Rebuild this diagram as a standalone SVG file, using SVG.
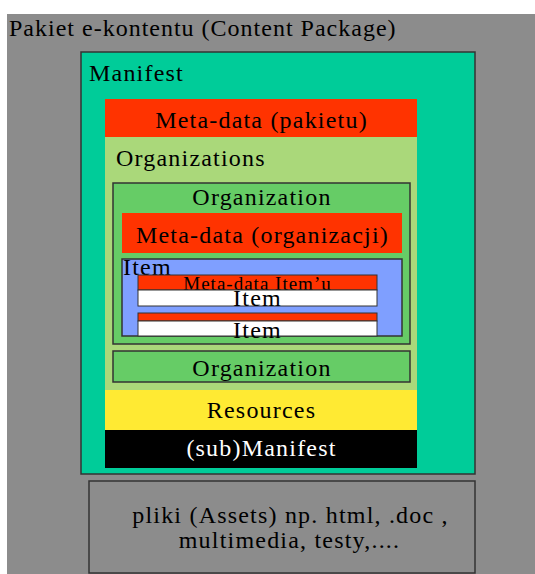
<svg xmlns="http://www.w3.org/2000/svg" width="535" height="574" viewBox="0 0 535 574">
<style>
text{font-family:"Liberation Serif","Times New Roman",serif;fill:#000;font-size:24px;letter-spacing:1.2px}
.c{text-anchor:middle}
.b{stroke:#333;stroke-width:1.5}
.t{stroke:#333;stroke-width:1}
</style>
<rect x="0" y="0" width="535" height="574" fill="#fff"/>
<g id="package">
<rect x="7" y="14" width="528" height="560" fill="#8c8c8c"/>
<text x="9" y="36" style="letter-spacing:1px">Pakiet e-kontentu (Content Package)</text>
</g>
<g id="manifest">
<rect x="81" y="52" width="394" height="422" fill="#00cc99" class="b"/>
<text x="89" y="81">Manifest</text>
</g>
<g id="metadata-pakietu">
<rect x="105" y="99" width="312" height="38" fill="#ff3300"/>
<text class="c" x="261.5" y="128">Meta-data (pakietu)</text>
</g>
<g id="organizations">
<rect x="105" y="137" width="312" height="253" fill="#aad87a"/>
<text x="116" y="166">Organizations</text>
</g>
<g id="organization1">
<rect x="113" y="183" width="297" height="161" fill="#66cc66" class="b"/>
<text class="c" x="262" y="205">Organization</text>
</g>
<g id="metadata-organizacji">
<rect x="122" y="213" width="280" height="40" fill="#ff3300"/>
<text class="c" x="262.5" y="243">Meta-data (organizacji)</text>
</g>
<g id="item">
<rect x="122" y="259" width="280" height="77" fill="#7f9fff" class="b"/>
<text x="123" y="275">Item</text>
</g>
<g id="item1">
<rect x="138" y="275" width="239" height="15" fill="#ff3300" class="t"/>
<text class="c" x="257.5" y="290" style="font-size:19px;letter-spacing:1px">Meta-data Item’u</text>
<rect x="138" y="290" width="239" height="16" fill="#fff" class="t"/>
<text class="c" x="257.5" y="306">Item</text>
</g>
<g id="item2">
<rect x="138" y="313" width="239" height="8" fill="#ff3300" class="t"/>
<rect x="138" y="321" width="239" height="15" fill="#fff" class="t"/>
<text class="c" x="257.5" y="338">Item</text>
</g>
<g id="organization2">
<rect x="113" y="351" width="297" height="31" fill="#66cc66" class="b"/>
<text class="c" x="262" y="376">Organization</text>
</g>
<g id="resources">
<rect x="105" y="390" width="312" height="40" fill="#ffea33"/>
<text class="c" x="261.5" y="418">Resources</text>
</g>
<g id="submanifest">
<rect x="105" y="430" width="312" height="38" fill="#000"/>
<text class="c" x="261.5" y="456" style="fill:#fff">(sub)Manifest</text>
</g>
<g id="assets">
<rect x="89" y="481" width="386" height="92" fill="#8c8c8c" class="b"/>
<text class="c" x="290.5" y="523">pliki (Assets) np. html, .doc ,</text>
<text class="c" x="289.5" y="548">multimedia, testy,....</text>
</g>
<g id="connectors"/>
</svg>
